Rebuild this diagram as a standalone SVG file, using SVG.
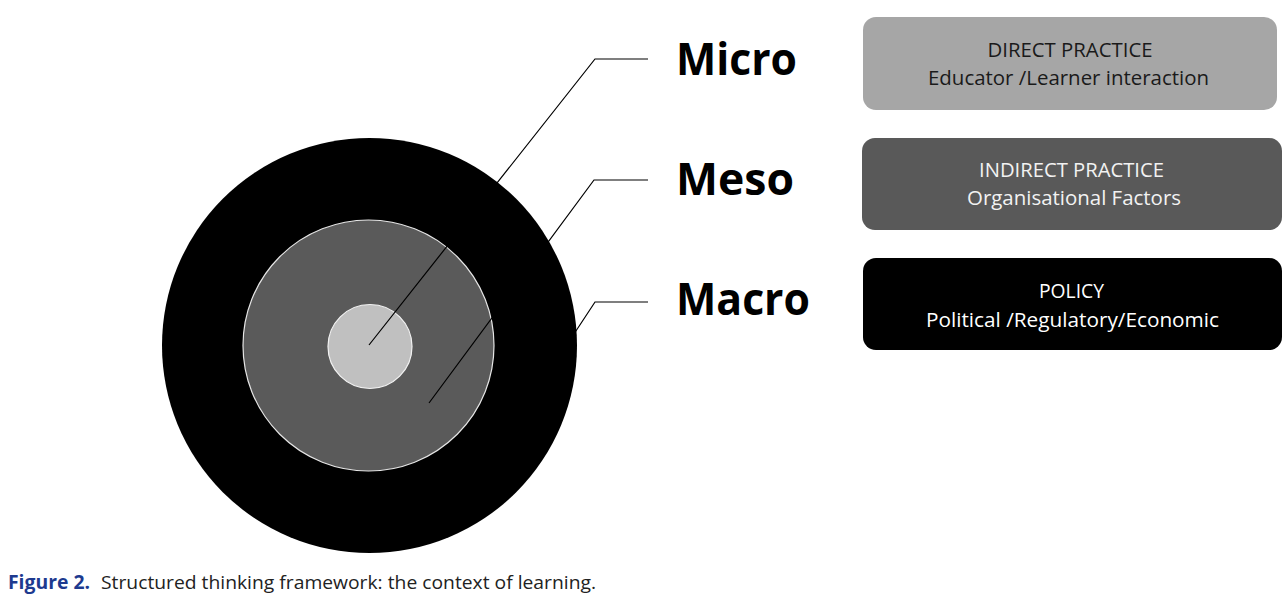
<svg xmlns="http://www.w3.org/2000/svg" width="1284" height="598" viewBox="0 0 1284 598">
<style>
.lvl{font-family:"Open Sans","Noto Sans","Liberation Sans",sans-serif;font-weight:bold;font-size:45px;fill:#000}
.bx{font-family:"Open Sans","Noto Sans","Liberation Sans",sans-serif;font-size:20px;text-anchor:middle}
.ln{fill:none;stroke:#000;stroke-width:1.2}
.cap{font-family:"Open Sans","Noto Sans","Liberation Sans",sans-serif;font-size:19px}
</style>
<rect width="1284" height="598" fill="#fff"/>
<g id="circles">
<circle id="macro-ring" cx="369.5" cy="345.5" r="207.5" fill="#000"/>
<circle id="meso-ring" cx="368.5" cy="345.5" r="125.5" fill="#5a5a5a" stroke="#e6e6e6" stroke-width="1.2"/>
<circle id="micro-core" cx="370" cy="346.5" r="42" fill="#c0c0c0" stroke="#f2f2f2" stroke-width="1.2"/>
</g>
<g id="connectors">
<polyline class="ln" points="648,59 595,59 369,345"/>
<polyline class="ln" points="648,180 594,180 429,403"/>
<polyline class="ln" points="648,302 595,302 570,340"/>
</g>
<g id="label-micro"><text class="lvl" x="676" y="75" textLength="121" lengthAdjust="spacingAndGlyphs">Micro</text></g>
<g id="label-meso"><text class="lvl" x="676" y="195" textLength="118" lengthAdjust="spacingAndGlyphs">Meso</text></g>
<g id="label-macro"><text class="lvl" x="676" y="315" textLength="134" lengthAdjust="spacingAndGlyphs">Macro</text></g>
<g id="box-direct">
<rect x="863" y="17" width="414" height="93" rx="13" fill="#a6a6a6"/>
<text class="bx" x="1070" y="57" fill="#1a1a1a" textLength="165" lengthAdjust="spacingAndGlyphs">DIRECT PRACTICE</text>
<text class="bx" x="1068.5" y="85" fill="#1a1a1a" textLength="281" lengthAdjust="spacingAndGlyphs">Educator /Learner interaction</text>
</g>
<g id="box-indirect">
<rect x="862" y="138" width="420" height="92" rx="13" fill="#595959"/>
<text class="bx" x="1071.5" y="177" fill="#f2f2f2" textLength="185" lengthAdjust="spacingAndGlyphs">INDIRECT PRACTICE</text>
<text class="bx" x="1074" y="205" fill="#f2f2f2" textLength="214" lengthAdjust="spacingAndGlyphs">Organisational Factors</text>
</g>
<g id="box-policy">
<rect x="863" y="258" width="419" height="92" rx="13" fill="#000"/>
<text class="bx" x="1071.5" y="298" fill="#fff" textLength="65" lengthAdjust="spacingAndGlyphs">POLICY</text>
<text class="bx" x="1072.5" y="327" fill="#fff" textLength="293" lengthAdjust="spacingAndGlyphs">Political /Regulatory/Economic</text>
</g>
<g id="caption">
<text class="cap" x="8" y="589" fill="#1d3a8f" font-weight="bold" textLength="82" lengthAdjust="spacingAndGlyphs">Figure 2.</text>
<text class="cap" x="101" y="589" fill="#222" textLength="495" lengthAdjust="spacingAndGlyphs">Structured thinking framework: the context of learning.</text>
</g>
</svg>
